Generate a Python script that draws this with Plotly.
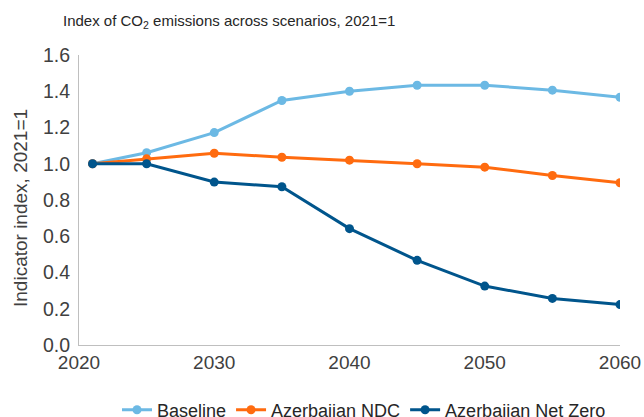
import plotly.graph_objects as go

years = [2021, 2025, 2030, 2035, 2040, 2045, 2050, 2055, 2060]
baseline = [1.0, 1.061, 1.172, 1.349, 1.400, 1.433, 1.433, 1.406, 1.367]
ndc = [1.0, 1.027, 1.058, 1.036, 1.020, 1.0, 0.981, 0.935, 0.895]
net_zero = [1.0, 1.0, 0.899, 0.873, 0.642, 0.467, 0.325, 0.257, 0.223]

series = [
    ("Baseline", baseline, "#6CB9E4"),
    ("Azerbaijan NDC", ndc, "#FF6B0F"),
    ("Azerbaijan Net Zero", net_zero, "#00558C"),
]

font = "Liberation Sans, Arial, sans-serif"

fig = go.Figure()
for name, vals, col in series:
    fig.add_trace(go.Scatter(
        x=years, y=vals, name=name, mode="lines+markers",
        line=dict(color=col, width=3),
        marker=dict(color=col, size=9),
    ))

fig.update_layout(
    width=644, height=417,
    paper_bgcolor="white", plot_bgcolor="white",
    margin=dict(l=79, r=24, t=55, b=72, autoexpand=False),
    title=dict(text="Index of CO<sub>2</sub> emissions across scenarios, 2021=1",
               x=63 / 644, xanchor="left", y=1 - 21 / 417, yanchor="middle",
               font=dict(family=font, size=15, color="#262626")),
    xaxis=dict(range=[2020, 2060], tickvals=[2020, 2030, 2040, 2050, 2060],
               showgrid=False, zeroline=False, showline=True, linecolor="#BFBFBF",
               linewidth=1, ticks="", automargin=False,
               tickfont=dict(family=font, size=19, color="#404040")),
    yaxis=dict(range=[0, 1.6], tickvals=[0, 0.2, 0.4, 0.6, 0.8, 1.0, 1.2, 1.4, 1.6],
               tickformat=".1f", showgrid=False, zeroline=False, showline=True,
               linecolor="#BFBFBF", linewidth=1, ticks="", automargin=False,
               ticklabelstandoff=4,
               tickfont=dict(family=font, size=19.5, color="#404040")),
    annotations=[dict(text="Indicator index, 2021=1", textangle=-90,
                      xref="paper", yref="paper", x=-59 / 541, y=(345 - 208) / 290,
                      xanchor="center", yanchor="middle", showarrow=False,
                      font=dict(family=font, size=19, color="#404040"))],
    legend=dict(orientation="h", x=(364 - 79) / 541, xanchor="center",
                y=-(410 - 345) / 290, yanchor="middle", itemwidth=30,
                font=dict(family=font, size=18, color="#262626")),
    showlegend=True,
)

fig.write_html("out.html", config={"displayModeBar": False},
               post_script="document.body.style.margin='0';")
